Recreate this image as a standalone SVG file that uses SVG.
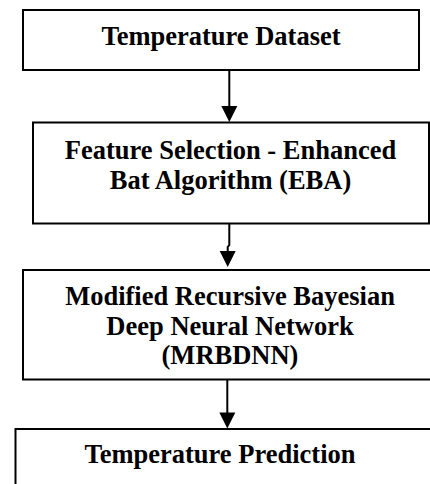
<svg xmlns="http://www.w3.org/2000/svg" width="430" height="484" viewBox="0 0 430 484">
<style>
.box{fill:#fff;stroke:#000;stroke-width:2}
.lbl{font-family:"Liberation Serif","Times New Roman",serif;font-weight:bold;font-size:26.5px;fill:#000;text-anchor:middle}
.conn{fill:none;stroke:#000;stroke-width:2;marker-end:url(#arrow)}
</style>
<defs>
<marker id="arrow" markerUnits="userSpaceOnUse" markerWidth="16" markerHeight="16" refX="10" refY="8" orient="auto" overflow="visible">
<path d="M0,0 L16,8 L0,16 Z" fill="#000"/>
</marker>
</defs>
<rect width="430" height="484" fill="#fff"/>
<g id="node-dataset">
<rect class="box" x="23" y="10" width="396" height="60"/>
<text class="lbl" x="221" y="45">Temperature Dataset</text>
</g>
<g id="node-eba">
<rect class="box" x="33" y="122.5" width="396" height="101"/>
<text class="lbl" x="230.5" y="159">Feature Selection - Enhanced</text>
<text class="lbl" x="230.5" y="188.5">Bat Algorithm (EBA)</text>
</g>
<g id="node-mrbdnn">
<rect class="box" x="23" y="270" width="420" height="109.5"/>
<text class="lbl" x="230" y="305">Modified Recursive Bayesian</text>
<text class="lbl" x="230" y="334.5">Deep Neural Network</text>
<text class="lbl" x="230" y="364">(MRBDNN)</text>
</g>
<g id="node-prediction">
<rect class="box" x="15.5" y="429" width="430" height="70"/>
<text class="lbl" x="220" y="463">Temperature Prediction</text>
</g>
<g id="connectors">
<path class="conn" d="M229.3,70 V116"/>
<path class="conn" d="M229.3,224 V245 L227.7,247 V261"/>
<path class="conn" d="M227.3,380 V422.5"/>
</g>
</svg>
